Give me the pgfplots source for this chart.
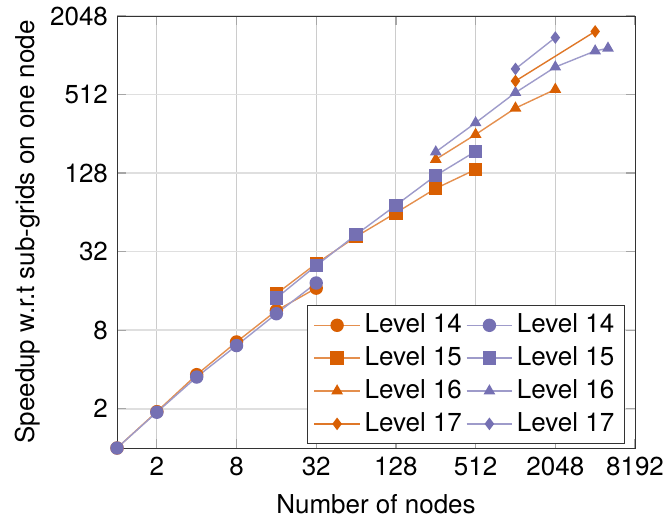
\documentclass[border=0pt]{standalone}
\usepackage{fontspec}
\setmainfont{TeX Gyre Heros}
\usepackage{pgfplots}
\pgfplotsset{compat=1.18}
\definecolor{dorange}{HTML}{D95F02}
\definecolor{dpurple}{HTML}{7570B3}
\colorlet{lorange}{dorange!70!white}
\colorlet{lpurple}{dpurple!70!white}
\begin{document}
\fontsize{13}{15}\selectfont
\begin{tikzpicture}
\begin{axis}[
  name=ax,
  scale only axis, width=259pt, height=216pt,
  xmode=log, ymode=log, log basis x=2, log basis y=2,
  xmin=1, xmax=8192, ymin=1, ymax=2048,
  xtick={2,8,32,128,512,2048,8192}, xticklabels={2,8,32,128,512,2048,8192},
  ytick={2,8,32,128,512,2048}, yticklabels={2,8,32,128,512,2048},
  grid=major,
  x grid style={gray!40, line width=0.5pt},
  y grid style={gray!25, line width=0.8pt},
  tick style={gray!70, line width=0.6pt},
  axis line style={black!80},
  xlabel={Number of nodes}, ylabel={Speedup w.r.t sub-grids on one node},
  xlabel style={inner ysep=0.5pt, yshift=-4pt},
  ylabel style={yshift=-4pt},
  legend columns=2,
  legend style={at={(0.98,0.01)}, anchor=south east, draw=black!80, font=\fontsize{13}{15}\selectfont, row sep=1pt},
  legend image code/.code={\draw[mark repeat=2,mark phase=2] plot coordinates {(0cm,0cm) (0.4cm,0cm) (0.8cm,0cm)};},
  every axis plot/.append style={line width=0.7pt},
]
\addplot[lorange, mark=*, mark size=3pt, mark options={fill=dorange, draw=dorange}] coordinates {(1,1) (2,1.9) (4,3.65) (8,6.5) (16,11.3) (32,16.8)};
\addlegendentry{Level 14}
\addplot[lpurple, mark=*, mark size=3pt, mark options={fill=dpurple, draw=dpurple}] coordinates {(1,1) (2,1.88) (4,3.5) (8,6.1) (16,10.7) (32,18.4)};
\addlegendentry{Level 14}
\addplot[lorange, mark=square*, mark size=3pt, mark options={fill=dorange, draw=dorange}] coordinates {(16,15.2) (32,25.9) (64,41.7) (128,63.5) (256,97.6) (512,136.5)};
\addlegendentry{Level 15}
\addplot[lpurple, mark=square*, mark size=3pt, mark options={fill=dpurple, draw=dpurple}] coordinates {(16,14.1) (32,25) (64,43.2) (128,72.6) (256,122.7) (512,188)};
\addlegendentry{Level 15}
\addplot[lorange, mark=triangle*, mark size=2.7pt, mark options={fill=dorange, draw=dorange}] coordinates {(256,163) (512,253) (1024,403) (2048,561)};
\addlegendentry{Level 16}
\addplot[lpurple, mark=triangle*, mark size=2.7pt, mark options={fill=dpurple, draw=dpurple}] coordinates {(256,186) (512,311) (1024,530) (2048,832) (4096,1105) (5120,1160)};
\addlegendentry{Level 16}
\addplot[dorange!85!white, mark=diamond*, mark size=2.6pt, mark options={fill=dorange, draw=dorange}] coordinates {(1024,650) (4096,1560)};
\addlegendentry{Level 17}
\addplot[lpurple, mark=diamond*, mark size=2.6pt, mark options={fill=dpurple, draw=dpurple}] coordinates {(1024,805) (2048,1400)};
\addlegendentry{Level 17}
\end{axis}
\pgfresetboundingbox
\path[use as bounding box] ([xshift=-58.5pt,yshift=-36.5pt]ax.south west) rectangle ([xshift=15.5pt,yshift=8pt]ax.north east);
\end{tikzpicture}
\end{document}
